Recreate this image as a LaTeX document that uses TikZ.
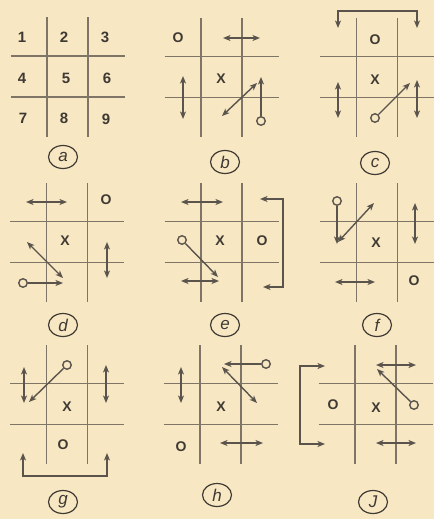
\documentclass[tikz,border=0pt]{standalone}
\usepackage{fontspec}
\setmainfont{Liberation Sans}
\usetikzlibrary{arrows.meta,shapes.geometric}
\definecolor{paper}{HTML}{F7E7C3}
\definecolor{gridc}{HTML}{7F7566}
\definecolor{ink}{HTML}{5A544C}
\definecolor{dark}{HTML}{3E3932}
\tikzset{
  gridline/.style={gridc, line width=1.5pt},
  mytip/.tip={Stealth[length=7.5pt,width=6pt,inset=2pt]},
  mv/.style={ink, line width=1.4pt, line join=miter, {mytip}-{mytip}},
  one/.style={ink, line width=1.4pt, -{mytip}},
  startc/.style={circle, draw=ink, line width=1.4pt, fill=paper, inner sep=0pt, minimum size=8.5pt},
  num/.style={text=dark, font=\fontsize{15}{15}\selectfont\bfseries, inner sep=0pt},
  xo/.style={text=dark, font=\fontsize{14}{14}\selectfont\bfseries, inner sep=0pt},
  lab/.style={ellipse, draw=dark, line width=1.2pt, minimum width=29pt, minimum height=23pt, inner sep=0pt, text=dark, font=\fontsize{17}{17}\selectfont\itshape},
}
\newcommand{\tttgrid}[1]{%
  \begin{scope}[shift={#1}]
    \draw[gridline] (-57,-20.5) -- (57,-20.5) (-57,20.5) -- (57,20.5)
      (-20.5,-59) -- (-20.5,60) (20.5,-59) -- (20.5,60);
  \end{scope}}
\begin{document}
\begin{tikzpicture}[x=1pt,y=-1pt]
\fill[paper] (0,0) rectangle (434,519);
\useasboundingbox (0,0) rectangle (434,519);
% grids
\tttgrid{(67.5,76.5)}
\tttgrid{(221.5,77)}
\tttgrid{(377,77)}
\tttgrid{(67,242)}
\tttgrid{(221.5,242)}
\tttgrid{(377,242)}
\tttgrid{(67,404)}
\tttgrid{(220.5,404)}
\tttgrid{(375.5,404)}
% ---- panel a
\node[num] (a1) at (22,37) {1};
\node[num] (a2) at (64,37) {2};
\node[num] (a3) at (105,37) {3};
\node[num] (a4) at (22,78) {4};
\node[num] (a5) at (66,78) {5};
\node[num] (a6) at (107,78) {6};
\node[num] (a7) at (23,118) {7};
\node[num] (a8) at (64,118) {8};
\node[num] (a9) at (106,119) {9};
\node[lab] (la) at (63,157) {a};
% ---- panel b
\node[xo] (bO) at (178,38) {O};
\node[xo] (bX) at (221,79) {X};
\coordinate (b1) at (223,38); \coordinate (b2) at (260,38);
\draw[mv] (b1) -- (b2);
\coordinate (b3) at (183,76); \coordinate (b4) at (183,119);
\draw[mv] (b3) -- (b4);
\coordinate (b5) at (222,116); \coordinate (b6) at (257,83);
\draw[mv] (b5) -- (b6);
\node[startc] (bs) at (261,121) {};
\coordinate (bt) at (261,77);
\draw[one] (bs) -- (bt);
\node[lab] (lb) at (225,162) {b};
% ---- panel c
\coordinate (c1) at (338,28); \coordinate (ck1) at (338,11);
\coordinate (ck2) at (417,11); \coordinate (c2) at (417,28);
\draw[mv] (c1) -- (ck1) -- (ck2) -- (c2);
\node[xo] (cO) at (375,40) {O};
\node[xo] (cX) at (375,80) {X};
\coordinate (c3) at (338,82); \coordinate (c4) at (338,118);
\draw[mv] (c3) -- (c4);
\node[startc] (cs) at (375,118) {};
\coordinate (ct) at (410,83);
\draw[one] (cs) -- (ct);
\coordinate (c5) at (417,80); \coordinate (c6) at (417,118);
\draw[mv] (c5) -- (c6);
\node[lab] (lc) at (375,163) {c};
% ---- panel d
\coordinate (d1) at (26,202); \coordinate (d2) at (67,202);
\draw[mv] (d1) -- (d2);
\node[xo] (dO) at (106,200) {O};
\node[xo] (dX) at (65,241) {X};
\coordinate (d3) at (27,242); \coordinate (d4) at (63,278);
\draw[mv] (d3) -- (d4);
\node[startc] (ds) at (23,283) {};
\coordinate (dt) at (63,283);
\draw[one] (ds) -- (dt);
\coordinate (d5) at (107,242); \coordinate (d6) at (107,278);
\draw[mv] (d5) -- (d6);
\node[lab] (ld) at (63,325) {d};
% ---- panel e
\coordinate (e1) at (181,202); \coordinate (e2) at (223,202);
\draw[mv] (e1) -- (e2);
\coordinate (e3) at (260,199); \coordinate (ek1) at (283,199);
\coordinate (ek2) at (283,287); \coordinate (e4) at (263,287);
\draw[mv] (e3) -- (ek1) -- (ek2) -- (e4);
\node[startc] (es) at (182,240) {};
\coordinate (et) at (218,277);
\draw[one] (es) -- (et);
\node[xo] (eX) at (220,241) {X};
\node[xo] (eO) at (262,241) {O};
\coordinate (e5) at (181,281); \coordinate (e6) at (219,281);
\draw[mv] (e5) -- (e6);
\node[lab] (le) at (225,325) {e};
% ---- panel f
\node[startc] (fs) at (337,201) {};
\coordinate (ft) at (337,244);
\draw[one] (fs) -- (ft);
\coordinate (f1) at (338,242); \coordinate (f2) at (374,203);
\draw[mv] (f1) -- (f2);
\coordinate (f3) at (415,203); \coordinate (f4) at (415,244);
\draw[mv] (f3) -- (f4);
\node[xo] (fX) at (376,243) {X};
\coordinate (f5) at (335,282); \coordinate (f6) at (375,282);
\draw[mv] (f5) -- (f6);
\node[xo] (fO) at (414,281) {O};
\node[lab] (lf) at (377,325) {f};
% ---- panel g
\coordinate (g1) at (24,367); \coordinate (g2) at (24,403);
\draw[mv] (g1) -- (g2);
\node[startc] (gs) at (67,365) {};
\coordinate (gt) at (29,402);
\draw[one] (gs) -- (gt);
\coordinate (g3) at (106,365); \coordinate (g4) at (106,403);
\draw[mv] (g3) -- (g4);
\node[xo] (gX) at (67,407) {X};
\node[xo] (gO) at (63,445) {O};
\coordinate (g5) at (23,453); \coordinate (gk1) at (23,476);
\coordinate (gk2) at (107,476); \coordinate (g6) at (107,453);
\draw[mv] (g5) -- (gk1) -- (gk2) -- (g6);
\node[lab] (lg) at (63,502) {g};
% ---- panel h
\coordinate (h1) at (181,367); \coordinate (h2) at (181,403);
\draw[mv] (h1) -- (h2);
\node[startc] (hs) at (266,364) {};
\coordinate (ht) at (224,364);
\draw[one] (hs) -- (ht);
\coordinate (h3) at (222,367); \coordinate (h4) at (257,403);
\draw[mv] (h3) -- (h4);
\node[xo] (hX) at (221,407) {X};
\node[xo] (hO) at (181,447) {O};
\coordinate (h5) at (220,443); \coordinate (h6) at (263,443);
\draw[mv] (h5) -- (h6);
\node[lab] (lh) at (217,495) {h};
% ---- panel j
\coordinate (j1) at (325,366); \coordinate (jk1) at (300,366);
\coordinate (jk2) at (300,444); \coordinate (j2) at (325,444);
\draw[mv] (j1) -- (jk1) -- (jk2) -- (j2);
\coordinate (j3) at (376,365); \coordinate (j4) at (416,365);
\draw[mv] (j3) -- (j4);
\node[startc] (js) at (414,405) {};
\coordinate (jt) at (377,369);
\draw[one] (js) -- (jt);
\node[xo] (jO) at (333,405) {O};
\node[xo] (jX) at (376,408) {X};
\coordinate (j5) at (376,443); \coordinate (j6) at (416,443);
\draw[mv] (j5) -- (j6);
\node[lab] (lj) at (373,502) {J};
\end{tikzpicture}
\end{document}
